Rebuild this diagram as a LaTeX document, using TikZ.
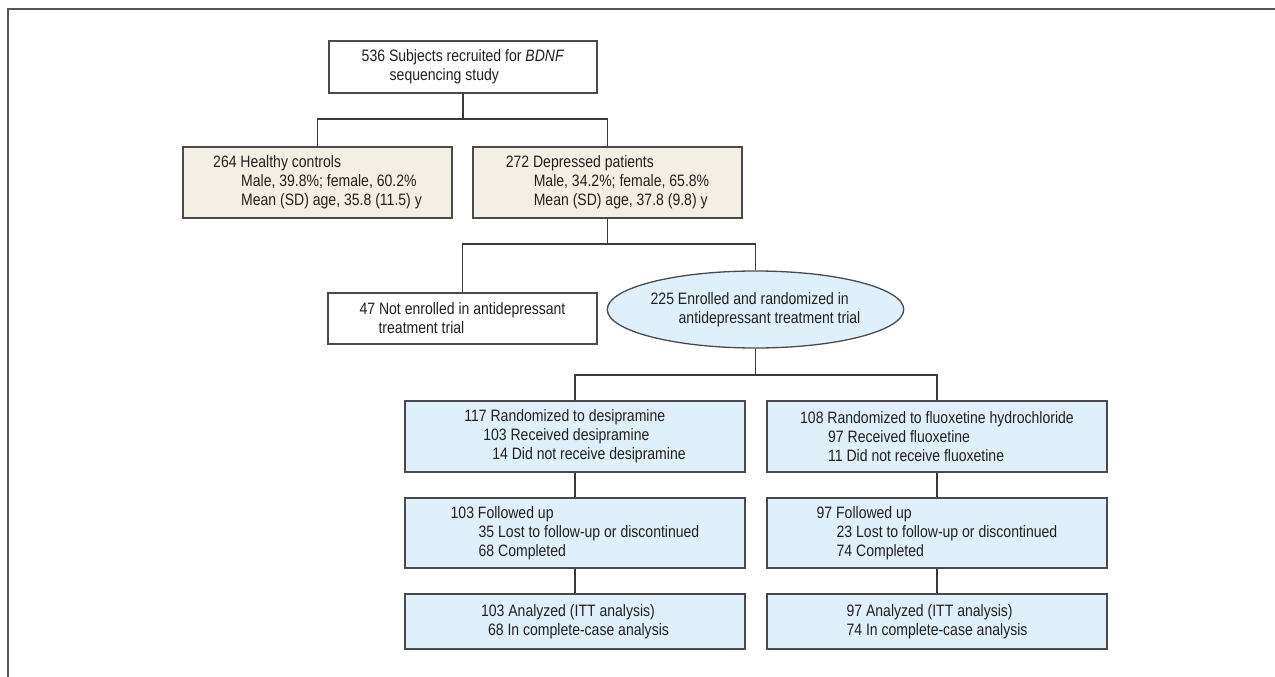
\documentclass[tikz,border=0pt]{standalone}
\usepackage{fontspec}
\setmainfont{Liberation Sans}[FakeStretch=0.85]
\usetikzlibrary{shapes.geometric}
\definecolor{tanfill}{HTML}{F4EFE4}
\definecolor{bluefill}{HTML}{DFF0FA}
\definecolor{edgecol}{HTML}{4A4A4A}
\definecolor{linecol}{HTML}{3A3A3A}
\definecolor{framecol}{HTML}{555555}
\definecolor{txtcol}{HTML}{231F20}
\tikzset{
  box/.style={draw=edgecol, line width=1.3pt, rectangle, align=left, inner sep=0pt,
    text=txtcol, font=\fontsize{16.5}{19}\selectfont},
  whitebox/.style={box, fill=white},
  tanbox/.style={box, fill=tanfill},
  bluebox/.style={box, fill=bluefill},
  oval/.style={box, ellipse, fill=bluefill},
  conn/.style={draw=linecol, line width=1.2pt},
}
\newcommand{\ind}[1]{\hspace*{#1pt}}
\begin{document}
\begin{tikzpicture}[x=1pt, y=-1pt]
\useasboundingbox (0,0) rectangle (1275,677);
\draw[framecol, line width=2pt] (8,677) -- (8,9) -- (1275,9);

\node[whitebox, minimum width=268pt, minimum height=52pt] (top) at (463,67)
  {536 Subjects recruited for \textit{BDNF}\\\ind{28}sequencing study};
\node[tanbox, minimum width=269pt, minimum height=71pt] (healthy) at (317.5,182.5)
  {264 Healthy controls\\\ind{28}Male, 39.8\%; female, 60.2\%\\\ind{28}Mean (SD) age, 35.8 (11.5) y};
\node[tanbox, minimum width=269pt, minimum height=71pt] (depressed) at (607.5,182.5)
  {272 Depressed patients\\\ind{28}Male, 34.2\%; female, 65.8\%\\\ind{28}Mean (SD) age, 37.8 (9.8) y};
\node[whitebox, minimum width=269pt, minimum height=51pt] (notenr) at (462.5,318.5)
  {47 Not enrolled in antidepressant\\\ind{19}treatment trial};
\node[oval, minimum width=275pt, minimum height=77pt] (enrolled) at (755.5,309.5)
  {225 Enrolled and randomized in\\\ind{28}antidepressant treatment trial};
\node[bluebox, minimum width=340pt, minimum height=71pt] (desip) at (575,436.5)
  {117 Randomized to desipramine\\\ind{19}103 Received desipramine\\\ind{28}14 Did not receive desipramine};
\node[bluebox, minimum width=340pt, minimum height=71pt] (fluox) at (937,436.5)
  {108 Randomized to fluoxetine hydrochloride\\\ind{28}97 Received fluoxetine\\\ind{28}11 Did not receive fluoxetine};
\node[bluebox, minimum width=340pt, minimum height=70pt] (fu1) at (575,533)
  {103 Followed up\\\ind{28}35 Lost to follow-up or discontinued\\\ind{28}68 Completed};
\node[bluebox, minimum width=340pt, minimum height=70pt] (fu2) at (937,533)
  {97 Followed up\\\ind{20}23 Lost to follow-up or discontinued\\\ind{20}74 Completed};
\node[bluebox, minimum width=340pt, minimum height=55pt] (an1) at (575,621.5)
  {103 Analyzed (ITT analysis)\\\ind{7}68 In complete-case analysis};
\node[bluebox, minimum width=340pt, minimum height=55pt] (an2) at (937,621.5)
  {97 Analyzed (ITT analysis)\\74 In complete-case analysis};

\coordinate (j1) at (463,119);
\coordinate (j2) at (607.5,244);
\coordinate (j3) at (755.5,375);
\draw[conn] (top.south) -- (j1);
\draw[conn] (healthy.north) |- (j1) -| (depressed.north);
\draw[conn] (depressed.south) -- (j2);
\draw[conn] (notenr.north) |- (j2) -| (enrolled.north);
\draw[conn] (enrolled.south) -- (j3);
\draw[conn] (desip.north) |- (j3) -| (fluox.north);
\draw[conn] (desip.south) -- (fu1.north);
\draw[conn] (fu1.south) -- (an1.north);
\draw[conn] (fluox.south) -- (fu2.north);
\draw[conn] (fu2.south) -- (an2.north);
\end{tikzpicture}
\end{document}
